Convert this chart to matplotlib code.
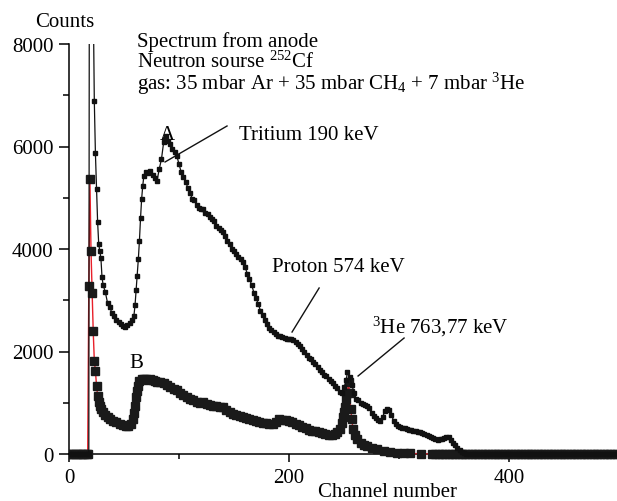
import matplotlib
matplotlib.use("Agg")
import matplotlib.pyplot as plt
from matplotlib.patches import Rectangle
from matplotlib.ticker import MultipleLocator

# --- data (channel, counts) ---
head_ch = [0, 2, 4, 6, 8, 10, 12, 14, 16]

# upper spectrum (small markers, black line)
upper_ch = [17, 18, 19, 21, 23, 24, 25, 26, 27, 28, 29, 30, 31, 33, 35, 37, 39, 41, 43, 45,
            47, 49, 51, 53, 55, 57, 59, 60, 61, 62, 63, 64, 65, 66, 67, 68, 70, 72, 74, 76,
            78, 80, 82, 84, 86, 87, 88, 90, 92, 94, 96, 98, 100, 102, 104, 106, 108, 110, 112, 114,
            116, 118, 120, 122, 124, 126, 128, 130, 132, 134, 136, 138, 140, 142, 144, 146, 148, 150, 152, 154,
            156, 158, 160, 162, 164, 166, 168, 170, 172, 174, 176, 178, 180, 182, 184, 186, 188, 190, 192, 194,
            196, 198, 200, 202, 204, 206, 208, 210, 212, 214, 216, 218, 220, 222, 224, 226, 228, 230, 232, 234,
            236, 238, 240, 242, 244, 246, 248, 250, 252, 253, 255, 257, 259, 261, 263, 265, 267, 269, 271, 273,
            275, 277, 279, 281, 283, 285, 287, 289, 291, 293, 295, 297, 299, 301, 303, 305, 307, 309, 311, 313,
            315, 317, 319, 321, 323, 325, 327, 329, 331, 333, 335, 337, 339, 341, 343, 345, 347, 349, 351, 353,
            355, 357, 359, 361]
upper_counts = [0, 0, 20000, 11000, 6890, 5870, 5170, 4530, 4100, 3960, 3820, 3450, 3300, 3160, 2950, 2870, 2750, 2700, 2620, 2580,
                2530, 2500, 2480, 2520, 2560, 2620, 2700, 2900, 3200, 3475, 3800, 4160, 4600, 4975, 5230, 5420, 5500, 5480, 5520, 5450,
                5380, 5330, 5560, 5750, 6080, 6150, 6200, 6100, 6050, 5950, 5900, 5820, 5650, 5500, 5400, 5300, 5200, 5100, 4975, 4950,
                4850, 4800, 4780, 4780, 4700, 4680, 4620, 4590, 4550, 4450, 4400, 4380, 4330, 4250, 4150, 4100, 4000, 3960, 3900, 3850,
                3800, 3745, 3650, 3520, 3415, 3300, 3150, 3050, 2920, 2800, 2720, 2620, 2540, 2460, 2420, 2380, 2340, 2310, 2300, 2280,
                2260, 2250, 2240, 2240, 2220, 2180, 2140, 2110, 2050, 2000, 1940, 1880, 1850, 1800, 1750, 1700, 1640, 1600, 1550, 1520,
                1470, 1420, 1380, 1320, 1280, 1210, 1200, 1300, 1450, 1600, 1500, 1350, 1200, 1080, 1050, 1000, 980, 960, 930, 900,
                800, 740, 700, 660, 640, 720, 830, 880, 850, 760, 650, 580, 550, 530, 510, 500, 490, 470, 460, 450,
                440, 430, 430, 410, 390, 370, 350, 330, 310, 290, 280, 290, 300, 320, 340, 330, 280, 220, 170, 120,
                70, 40, 20, 0]
upper_tail_ch = list(range(363, 500, 2))

# lower spectrum (large markers, red line)
lower_ch = [17, 18, 19, 20, 21, 22, 23, 24, 25, 26, 27, 28, 29, 31, 33, 35, 37, 40, 43, 46,
            49, 52, 54, 56, 58, 59, 60, 61, 62, 63, 64, 66, 68, 70, 72, 74, 76, 78, 80, 83,
            86, 89, 92, 95, 98, 101, 104, 107, 110, 113, 116, 119, 122, 125, 128, 131, 134, 137, 140, 143,
            146, 149, 152, 155, 158, 161, 164, 167, 170, 173, 176, 179, 182, 185, 188, 191, 194, 197, 200, 203,
            206, 209, 212, 215, 218, 221, 224, 227, 230, 233, 236, 239, 242, 244, 246, 248, 249, 250, 251, 252,
            253, 254, 255, 256, 257, 258, 260, 262, 265, 268, 271, 275, 280, 286, 292, 298, 304, 310, 320, 330]
lower_counts = [0, 3270, 5365, 3960, 3140, 2400, 1820, 1625, 1333, 1138, 1020, 943, 880, 813, 760, 720, 683, 650, 620, 585,
                570, 555, 553, 590, 683, 800, 943, 1110, 1230, 1333, 1420, 1463, 1470, 1460, 1450, 1463, 1440, 1420, 1410, 1400,
                1380, 1340, 1300, 1270, 1250, 1200, 1150, 1110, 1073, 1050, 1010, 1000, 1010, 980, 960, 940, 930, 920, 910, 860,
                820, 790, 760, 740, 720, 700, 680, 660, 645, 630, 610, 600, 590, 585, 620, 683, 670, 660, 645, 620,
                590, 560, 530, 500, 470, 450, 440, 430, 410, 390, 380, 370, 390, 430, 490, 600, 720, 820, 920, 1073,
                1200, 1400, 1200, 880, 683, 490, 380, 290, 220, 180, 160, 120, 90, 60, 40, 25, 15, 10, 5, 0]
lower_tail_ch = list(range(333, 500, 3))

up_x = head_ch + upper_ch + upper_tail_ch
up_y = [0] * len(head_ch) + upper_counts + [0] * len(upper_tail_ch)
lo_x = head_ch + lower_ch + lower_tail_ch
lo_y = [0] * len(head_ch) + lower_counts + [0] * len(lower_tail_ch)

plt.rcParams["font.family"] = ["Liberation Serif", "DejaVu Serif"]
plt.rcParams["mathtext.fontset"] = "custom"
plt.rcParams["mathtext.rm"] = "Liberation Serif"
plt.rcParams["mathtext.it"] = "Liberation Serif:italic"

fig = plt.figure(figsize=(6.17, 5.02), dpi=100)
ax = fig.add_axes([69 / 617, 47 / 502, 548 / 617, 410 / 502])

# clip region: cut at the top of the axes but let markers hang below the x axis
clip = Rectangle((0, -0.05), 1.02, 1.05, transform=ax.transAxes, facecolor="none", edgecolor="none")
ax.add_patch(clip)

lo, = ax.plot(lo_x, lo_y, color="#e8202a", lw=1.0, marker="s", ms=5.3,
              mfc="#1a1a1a", mec="#1a1a1a", zorder=3)
up, = ax.plot(up_x, up_y, color="#111111", lw=0.9, marker="s", ms=3.4,
              mfc="#111111", mec="#111111", zorder=4)
for ln in (lo, up):
    ln.set_clip_path(clip)

ax.set_xlim(0, 498)
ax.set_ylim(0, 8000)
ax.spines["top"].set_visible(False)
ax.spines["right"].set_visible(False)
for s in ("left", "bottom"):
    ax.spines[s].set_linewidth(1.1)

ax.xaxis.set_major_locator(MultipleLocator(200))
ax.xaxis.set_minor_locator(MultipleLocator(100))
ax.yaxis.set_major_locator(MultipleLocator(2000))
ax.yaxis.set_minor_locator(MultipleLocator(1000))
ax.tick_params(axis="y", which="major", length=7, width=1.1, labelsize=15, pad=4)
ax.tick_params(axis="y", which="minor", length=4.5, width=1.1)
ax.tick_params(axis="x", which="major", length=6, width=1.1, labelsize=15, pad=4)
ax.tick_params(axis="x", which="minor", length=3.5, width=1.1)

fs = 15
ax.text(-3.6, 8351, "Counts", ha="center", va="baseline", fontsize=fs, clip_on=False)
ax.text(289, -820, "Channel number", ha="center", va="baseline", fontsize=fs, clip_on=False)

ax.text(62, 7961, "Spectrum from anode", fontsize=fs, va="baseline")
ax.text(62, 7560, r"Neutron sourse $^{252}$Cf", fontsize=fs, va="baseline")
ax.text(62, 7120, r"gas: 35 mbar Ar + 35 mbar CH$_4$ + 7 mbar $^{3}$He", fontsize=fs, va="baseline")

ax.text(89, 6146, "A", ha="center", va="baseline", fontsize=fs)
ax.text(61, 1698, "B", ha="center", va="baseline", fontsize=fs)
ax.text(154.5, 6146, "Tritium 190 keV", fontsize=fs, va="baseline")
ax.text(184.5, 3571, "Proton 574 keV", fontsize=fs, va="baseline")
ax.text(275.5, 2380, r"$^{3}$He 763,77 keV", fontsize=fs, va="baseline")

# leader lines
ax.plot([143.6, 87.3], [6400, 5698], color="#111111", lw=1.0, zorder=5)
ax.plot([227.3, 202.7], [3239, 2380], color="#111111", lw=1.0, zorder=5)
ax.plot([304.5, 262.7], [2263, 1522], color="#111111", lw=1.0, zorder=5)

fig.savefig("out.png", dpi=100)
